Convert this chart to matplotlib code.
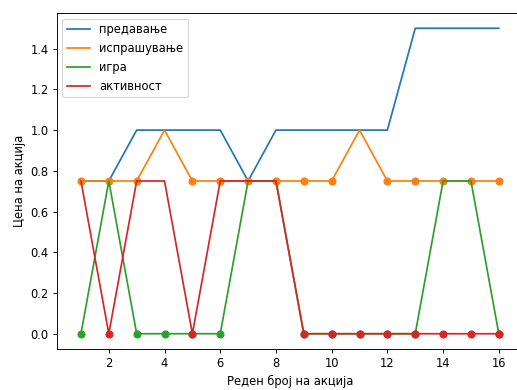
import matplotlib
matplotlib.use("Agg")
import matplotlib.pyplot as plt
import numpy as np

actions = list(range(1, 17))
lecture = [0.75, 0.75, 1.0, 1.0, 1.0, 1.0, 0.75, 1.0, 1.0, 1.0, 1.0, 1.0, 1.5, 1.5, 1.5, 1.5]
quiz = [0.75, 0.75, 0.75, 1.0, 0.75, 0.75, 0.75, 0.75, 0.75, 0.75, 1.0, 0.75, 0.75, 0.75, 0.75, 0.75]
game = [0, 0.75, 0, 0, 0, 0, 0.75, 0.75, 0, 0, 0, 0, 0, 0.75, 0.75, 0]
activity = [0.75, 0, 0.75, 0.75, 0, 0.75, 0.75, 0.75, 0, 0, 0, 0, 0, 0, 0, 0]

labels = ["предавање", "испрашување", "игра", "активност"]
colors = ["#1f77b4", "#ff7f0e", "#2ca02c", "#d62728"]
# value at which each series gets a dot marker (None = no markers)
marker_levels = [None, 0.75, 0.0, 0.0]

DPI = 83
fig = plt.figure(figsize=(517 / DPI, 390 / DPI), dpi=DPI)
ax = fig.add_axes([0.1097, 0.1051, 0.902, 0.8616])

x = np.array(actions)
for series, label, color, level in zip([lecture, quiz, game, activity], labels, colors, marker_levels):
    y = np.array(series, dtype=float)
    ax.plot(x, y, color=color, lw=1.5, label=label)
    if level is not None:
        mask = np.isclose(y, level)
        ax.scatter(x[mask], y[mask], color=color, s=36, zorder=2)

ax.set_xlim(0.13, 16.87)
ax.set_ylim(-0.075, 1.575)
ax.set_xticks([2, 4, 6, 8, 10, 12, 14, 16])
ax.set_yticks([0.0, 0.2, 0.4, 0.6, 0.8, 1.0, 1.2, 1.4])
ax.set_xlabel("Реден број на акција")
ax.set_ylabel("Цена на акција")
ax.legend(loc="upper left")

fig.savefig("out.png", dpi=DPI)
